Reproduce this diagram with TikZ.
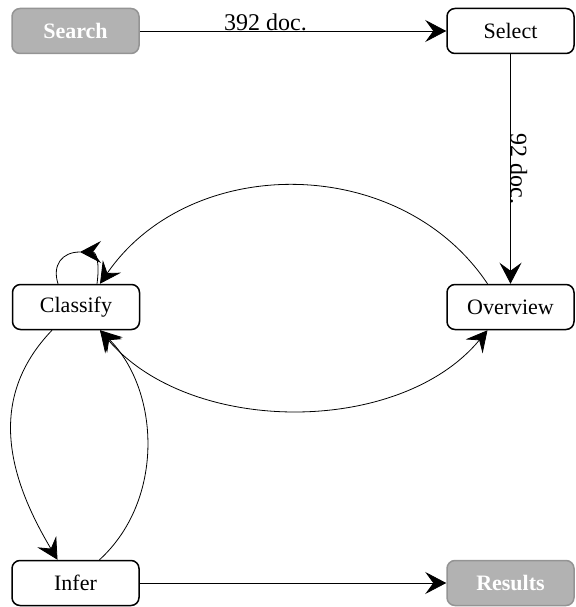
\documentclass[tikz,border=0pt]{standalone}
\usepackage{fontspec}
\setmainfont{Liberation Serif}
\usetikzlibrary{arrows.meta}
\usetikzlibrary{calc}

\begin{document}
\begin{tikzpicture}[x=1pt,y=-1pt,
  box/.style={draw,line width=1.5pt,rounded corners=8pt,minimum width=127pt,minimum height=45pt,inner sep=0pt,fill=white,font=\fontsize{22}{26}\selectfont},
  greybox/.style={box,draw=black!42,fill=black!30,text=white,font=\fontsize{22}{26}\selectfont\bfseries},
  edge/.style={line width=0.8pt,-{Stealth[length=21pt,width=22pt,inset=8pt]}},
  lbl/.style={inner sep=0pt,font=\fontsize{24}{28}\selectfont}]
\useasboundingbox (0,0) rectangle (575,607);

\node[greybox] (search) at (75.5,31) {Search};
\node[box] (select) at (510.5,31) {Select};
\node[box] (classify) at (76,307) {Classify};
\node[box] (overview) at (510.5,307) {Overview};
\node[box] (infer) at (75.5,583) {Infer};
\node[greybox] (results) at (510.5,583) {Results};
\coordinate (loop) at (80,252);

\draw[edge] (search) -- node[lbl,pos=0.41,anchor=base] {392 doc.} (select);
\draw[edge] (select) -- node[lbl,rotate=-90,anchor=base] {92 doc.} (overview);
\draw[edge] ($(overview.north)+(-23,0)$) .. controls (400,153) and (190,153) .. ($(classify.north)+(24,0)$);
\draw[edge,{Stealth[length=21pt,width=22pt,inset=8pt]}-{Stealth[length=21pt,width=22pt,inset=8pt]}] ($(classify.south)+(24,0)$) .. controls (190,436) and (400,436) .. ($(overview.south)+(-23,0)$);
\draw[edge] ($(classify.south)+(-24,0)$) .. controls (-15,400) and (10,480) .. ($(infer.north)+(-18,0)$);
\draw[edge] ($(infer.north)+(24,0)$) .. controls (165,500) and (160,390) .. ($(classify.south)+(24,0)$);
\draw[edge] ($(classify.north)+(21,0)$) .. controls (100,262) and (96,252) .. (loop);
\draw[line width=0.8pt] (loop) .. controls (62,252) and (52,265) .. ($(classify.north)+(-18,0)$);
\draw[edge] (infer) -- (results);
\end{tikzpicture}
\end{document}
